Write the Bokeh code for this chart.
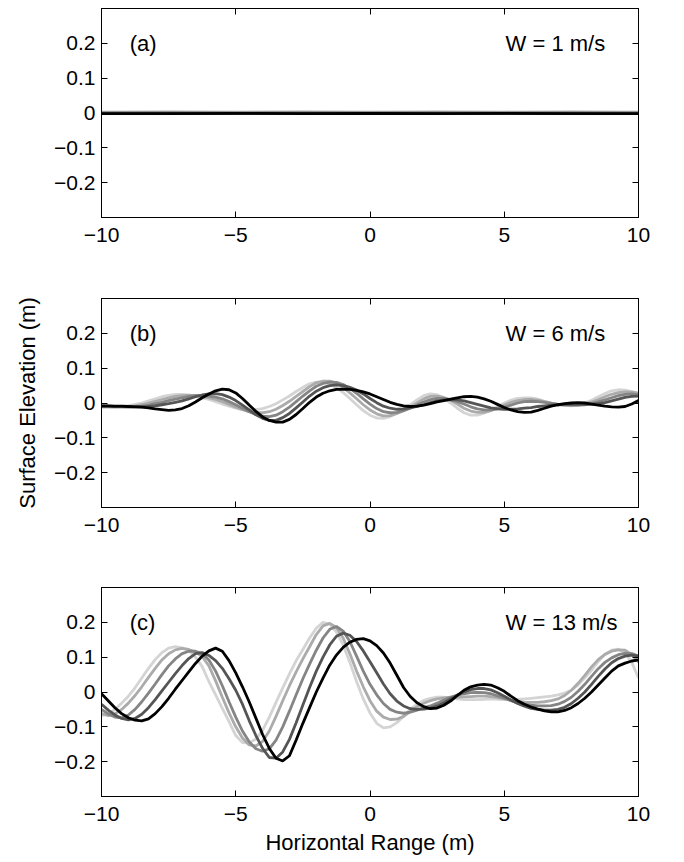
from bokeh.plotting import figure
from bokeh.layouts import column
from bokeh.models import Range1d, FixedTicker, LinearAxis, Label, CustomJSTickFormatter
from bokeh.embed import file_html
from bokeh.resources import INLINE

FONT = "Liberation Sans"

# ---------------- data ----------------
X_TICKS = [-10, -5, 0, 5, 10]
Y_TICKS = [-0.2, -0.1, 0, 0.1, 0.2]
GREYS = ["#d4d4d4", "#ababab", "#858585", "#555555", "#000000"]

# panel (a): W = 1 m/s, x every 2.5 m
x_a = [-10 + 2.5 * i for i in range(9)]
a1 = [0.003, 0.002, 0.003, 0.002, 0.003, 0.002, 0.003, 0.002, 0.003]
a2 = [0.002, 0.003, 0.002, 0.003, 0.002, 0.003, 0.002, 0.003, 0.002]
a3 = [0.000, 0.001, 0.000, 0.001, 0.000, 0.001, 0.000, 0.001, 0.000]
a4 = [-0.002, -0.001, -0.002, -0.001, -0.002, -0.001, -0.002, -0.001, -0.002]
a5 = [-0.002, -0.002, -0.001, -0.002, -0.001, -0.002, -0.001, -0.002, -0.002]

# panel (b): W = 6 m/s, x every 0.25 m
x_b = [-10 + 0.25 * i for i in range(81)]
b1 = [-0.012, -0.012, -0.011, -0.010, -0.008, -0.004, 0.000, 0.006,
      0.012, 0.018, 0.022, 0.025, 0.025, 0.023, 0.020, 0.015,
      0.010, 0.004, -0.003, -0.009, -0.015, -0.019, -0.020, -0.019,
      -0.016, -0.010, -0.002, 0.009, 0.020, 0.033, 0.045, 0.055,
      0.060, 0.060, 0.055, 0.044, 0.030, 0.013, -0.005, -0.022,
      -0.035, -0.043, -0.044, -0.039, -0.030, -0.018, -0.005, 0.009,
      0.021, 0.026, 0.024, 0.014, 0.000, -0.015, -0.028, -0.035,
      -0.035, -0.029, -0.020, -0.010, 0.000, 0.008, 0.013, 0.015,
      0.015, 0.011, 0.005, 0.000, -0.005, -0.007, -0.008, -0.006,
      0.000, 0.008, 0.018, 0.027, 0.035, 0.038, 0.037, 0.033,
      0.027]
b2 = [-0.011, -0.011, -0.011, -0.011, -0.010, -0.008, -0.005, 0.000,
      0.005, 0.010, 0.015, 0.019, 0.021, 0.022, 0.022, 0.019,
      0.015, 0.010, 0.004, -0.004, -0.012, -0.019, -0.025, -0.028,
      -0.028, -0.025, -0.018, -0.007, 0.005, 0.019, 0.033, 0.047,
      0.058, 0.063, 0.063, 0.057, 0.045, 0.029, 0.012, -0.005,
      -0.020, -0.031, -0.037, -0.036, -0.030, -0.022, -0.012, 0.000,
      0.012, 0.019, 0.020, 0.016, 0.008, -0.003, -0.015, -0.023,
      -0.027, -0.027, -0.022, -0.014, -0.006, 0.002, 0.007, 0.010,
      0.010, 0.008, 0.004, 0.000, -0.004, -0.006, -0.007, -0.006,
      -0.003, 0.003, 0.010, 0.018, 0.025, 0.030, 0.032, 0.031,
      0.028]
b3 = [-0.010, -0.010, -0.011, -0.011, -0.011, -0.010, -0.009, -0.006,
      -0.002, 0.002, 0.007, 0.011, 0.015, 0.019, 0.021, 0.021,
      0.020, 0.017, 0.012, 0.004, -0.005, -0.015, -0.025, -0.033,
      -0.038, -0.039, -0.035, -0.025, -0.012, 0.004, 0.020, 0.035,
      0.048, 0.056, 0.060, 0.059, 0.053, 0.042, 0.028, 0.012,
      -0.003, -0.016, -0.025, -0.028, -0.027, -0.022, -0.015, -0.006,
      0.003, 0.010, 0.013, 0.013, 0.010, 0.004, -0.003, -0.011,
      -0.017, -0.020, -0.020, -0.017, -0.012, -0.006, 0.000, 0.004,
      0.005, 0.004, 0.002, -0.001, -0.004, -0.005, -0.006, -0.006,
      -0.005, -0.002, 0.003, 0.009, 0.015, 0.021, 0.025, 0.026,
      0.024]
b4 = [-0.009, -0.009, -0.010, -0.010, -0.011, -0.011, -0.011, -0.010,
      -0.008, -0.005, -0.002, 0.002, 0.006, 0.012, 0.018, 0.023,
      0.026, 0.027, 0.024, 0.017, 0.007, -0.006, -0.020, -0.034,
      -0.044, -0.050, -0.050, -0.042, -0.030, -0.014, 0.003, 0.020,
      0.034, 0.044, 0.050, 0.052, 0.050, 0.045, 0.037, 0.026,
      0.013, 0.001, -0.009, -0.015, -0.018, -0.017, -0.014, -0.010,
      -0.005, 0.001, 0.006, 0.009, 0.010, 0.009, 0.006, 0.001,
      -0.004, -0.009, -0.014, -0.017, -0.018, -0.018, -0.017, -0.015,
      -0.013, -0.010, -0.008, -0.006, -0.005, -0.004, -0.004, -0.004,
      -0.004, -0.003, -0.002, 0.001, 0.006, 0.011, 0.016, 0.019,
      0.020]
b5 = [-0.008, -0.008, -0.009, -0.009, -0.010, -0.011, -0.012, -0.014,
      -0.017, -0.019, -0.021, -0.020, -0.016, -0.008, 0.003, 0.015,
      0.026, 0.035, 0.040, 0.038, 0.029, 0.013, -0.006, -0.024,
      -0.040, -0.050, -0.055, -0.055, -0.047, -0.033, -0.016, 0.002,
      0.017, 0.028, 0.035, 0.039, 0.040, 0.039, 0.036, 0.032,
      0.026, 0.018, 0.010, 0.002, -0.004, -0.008, -0.010, -0.009,
      -0.006, -0.002, 0.003, 0.007, 0.011, 0.015, 0.018, 0.019,
      0.017, 0.012, 0.005, -0.004, -0.013, -0.020, -0.025, -0.027,
      -0.026, -0.021, -0.015, -0.009, -0.005, -0.002, 0.000, 0.001,
      0.000, -0.003, -0.006, -0.009, -0.011, -0.012, -0.010, -0.003,
      0.007]

# panel (c): W = 13 m/s, x every 0.25 m
x_c = [-10 + 0.25 * i for i in range(81)]
c1 = [-0.068, -0.063, -0.050, -0.032, -0.012, 0.012, 0.040, 0.068,
      0.093, 0.113, 0.126, 0.130, 0.127, 0.120, 0.100, 0.073,
      0.030, -0.008, -0.047, -0.085, -0.125, -0.145, -0.146, -0.135,
      -0.110, -0.072, -0.030, 0.012, 0.052, 0.090, 0.122, 0.155,
      0.183, 0.200, 0.195, 0.172, 0.135, 0.085, 0.030, -0.020,
      -0.060, -0.090, -0.103, -0.100, -0.088, -0.070, -0.050, -0.035,
      -0.024, -0.018, -0.015, -0.015, -0.018, -0.020, -0.022, -0.022,
      -0.022, -0.021, -0.020, -0.021, -0.022, -0.022, -0.021, -0.020,
      -0.018, -0.016, -0.014, -0.012, -0.008, -0.003, 0.005, 0.020,
      0.040, 0.062, 0.087, 0.108, 0.120, 0.123, 0.113, 0.085,
      0.040]
c2 = [-0.062, -0.068, -0.063, -0.050, -0.032, -0.010, 0.015, 0.042,
      0.068, 0.092, 0.110, 0.121, 0.125, 0.122, 0.115, 0.102,
      0.075, 0.032, -0.015, -0.060, -0.100, -0.132, -0.152, -0.155,
      -0.142, -0.112, -0.070, -0.025, 0.018, 0.058, 0.095, 0.130,
      0.165, 0.190, 0.197, 0.185, 0.155, 0.110, 0.060, 0.015,
      -0.025, -0.055, -0.072, -0.079, -0.078, -0.070, -0.056, -0.043,
      -0.032, -0.025, -0.020, -0.017, -0.015, -0.015, -0.014, -0.013,
      -0.012, -0.012, -0.013, -0.016, -0.020, -0.024, -0.027, -0.029,
      -0.030, -0.030, -0.028, -0.025, -0.020, -0.010, 0.005, 0.025,
      0.048, 0.072, 0.093, 0.108, 0.117, 0.121, 0.120, 0.108,
      0.085]
c3 = [-0.050, -0.063, -0.072, -0.074, -0.066, -0.050, -0.028, -0.003,
      0.023, 0.050, 0.075, 0.095, 0.110, 0.117, 0.117, 0.110,
      0.092, 0.060, 0.018, -0.028, -0.072, -0.112, -0.143, -0.163,
      -0.170, -0.163, -0.138, -0.100, -0.055, -0.008, 0.038, 0.080,
      0.120, 0.155, 0.180, 0.188, 0.175, 0.145, 0.103, 0.060,
      0.022, -0.008, -0.033, -0.050, -0.058, -0.061, -0.058, -0.052,
      -0.045, -0.040, -0.032, -0.023, -0.015, -0.009, -0.005, -0.002,
      -0.001, -0.002, -0.005, -0.011, -0.018, -0.025, -0.031, -0.035,
      -0.038, -0.040, -0.040, -0.039, -0.035, -0.027, -0.015, 0.002,
      0.022, 0.045, 0.067, 0.085, 0.098, 0.107, 0.111, 0.110,
      0.103]
c4 = [-0.035, -0.052, -0.066, -0.076, -0.080, -0.076, -0.064, -0.045,
      -0.022, 0.003, 0.028, 0.053, 0.076, 0.096, 0.110, 0.113,
      0.105, 0.090, 0.068, 0.038, 0.005, -0.035, -0.082, -0.125,
      -0.162, -0.188, -0.190, -0.172, -0.136, -0.088, -0.037, 0.013,
      0.060, 0.100, 0.135, 0.160, 0.169, 0.163, 0.145, 0.118,
      0.087, 0.055, 0.023, -0.005, -0.026, -0.040, -0.048, -0.050,
      -0.049, -0.046, -0.040, -0.031, -0.020, -0.009, 0.000, 0.007,
      0.010, 0.010, 0.006, -0.002, -0.012, -0.023, -0.033, -0.041,
      -0.047, -0.050, -0.052, -0.052, -0.050, -0.044, -0.033, -0.018,
      0.000, 0.022, 0.045, 0.066, 0.084, 0.096, 0.103, 0.106,
      0.103]
c5 = [-0.005, -0.025, -0.045, -0.062, -0.074, -0.081, -0.083, -0.077,
      -0.062, -0.042, -0.018, 0.008, 0.033, 0.058, 0.082, 0.103,
      0.118, 0.126, 0.117, 0.090, 0.055, 0.015, -0.028, -0.075,
      -0.122, -0.162, -0.190, -0.198, -0.183, -0.138, -0.090, -0.045,
      0.000, 0.040, 0.077, 0.106, 0.128, 0.143, 0.151, 0.153,
      0.147, 0.133, 0.112, 0.083, 0.048, 0.013, -0.013, -0.031,
      -0.042, -0.048, -0.046, -0.038, -0.026, -0.010, 0.005, 0.015,
      0.020, 0.022, 0.020, 0.012, 0.002, -0.012, -0.025, -0.035,
      -0.043, -0.049, -0.054, -0.057, -0.057, -0.053, -0.045, -0.033,
      -0.018, 0.000, 0.020, 0.040, 0.060, 0.075, 0.083, 0.089,
      0.092]

PANELS = [
    ("(a)", "W = 1 m/s", x_a, [a1, a2, a3, a4, a5]),
    ("(b)", "W = 6 m/s", x_b, [b1, b2, b3, b4, b5]),
    ("(c)", "W = 13 m/s", x_c, [c1, c2, c3, c4, c5]),
]


def minus_formatter():
    return CustomJSTickFormatter(code="return tick < 0 ? '\\u2212' + (-tick) : '' + tick;")


def style_axis(ax, ticks, show_labels, standoff=6):
    ax.ticker = FixedTicker(ticks=ticks)
    ax.major_tick_in = 6
    ax.major_tick_out = 0
    ax.minor_tick_line_color = None
    ax.axis_line_color = "black"
    ax.major_tick_line_color = "black"
    if show_labels:
        ax.formatter = minus_formatter()
        ax.major_label_text_font = FONT
        ax.major_label_text_font_size = "21px"
        ax.major_label_text_color = "black"
        ax.major_label_standoff = standoff
    else:
        ax.formatter = CustomJSTickFormatter(code="return '';")
        ax.major_label_text_font_size = "0px"
        ax.major_label_standoff = 0


def make_panel(tag, wind, xs, curves, top, bottom, ylabel=None, xlabel=None):
    p = figure(frame_width=537, frame_height=209,
               x_range=Range1d(-10, 10), y_range=Range1d(-0.3, 0.3),
               output_backend="svg", toolbar_location=None,
               min_border_left=101, min_border_right=38,
               min_border_top=top, min_border_bottom=bottom,
               background_fill_color="white", border_fill_color="white",
               outline_line_color="black", outline_line_width=1)
    p.grid.visible = False
    xax = p.xaxis[0]
    yax = p.yaxis[0]
    style_axis(xax, X_TICKS, True, standoff=10)
    style_axis(yax, Y_TICKS, True, standoff=6)
    top_ax = LinearAxis()
    right_ax = LinearAxis()
    style_axis(top_ax, X_TICKS, False)
    style_axis(right_ax, Y_TICKS, False)
    p.add_layout(top_ax, "above")
    p.add_layout(right_ax, "right")

    for ys, col in zip(curves, GREYS):
        p.line(xs, ys, line_color=col, line_width=2.8)

    p.add_layout(Label(x=-8.95, y=0.2, text=tag, text_align="left",
                       text_baseline="middle", text_font=FONT,
                       text_font_size="22px", text_color="black"))
    p.add_layout(Label(x=5.05, y=0.2, text=wind, text_align="left",
                       text_baseline="middle", text_font=FONT,
                       text_font_size="22px", text_color="black"))
    if ylabel:
        yax.axis_label = ylabel
        yax.axis_label_text_font = FONT
        yax.axis_label_text_font_size = "22px"
        yax.axis_label_text_font_style = "normal"
        yax.axis_label_text_color = "black"
        yax.axis_label_standoff = 11
    if xlabel:
        xax.axis_label = xlabel
        xax.axis_label_text_font = FONT
        xax.axis_label_text_font_size = "22px"
        xax.axis_label_text_font_style = "normal"
        xax.axis_label_text_color = "black"
        xax.axis_label_standoff = 6
    return p


pa = make_panel(*PANELS[0], top=8, bottom=81)
pb = make_panel(*PANELS[1], top=0, bottom=80, ylabel="Surface Elevation (m)")
pc = make_panel(*PANELS[2], top=0, bottom=56, xlabel="Horizontal Range (m)")

layout = column(pa, pb, pc, spacing=0)
open("out.html", "w").write(file_html(layout, INLINE))
